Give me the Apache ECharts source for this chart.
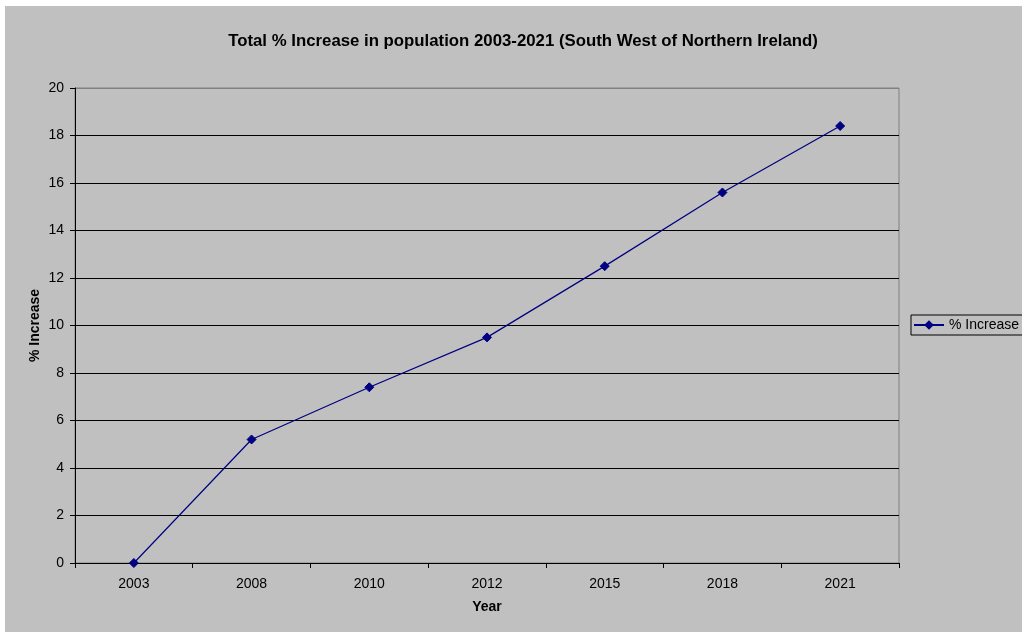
<!DOCTYPE html>
<html><head><meta charset="utf-8">
<script src="https://cdn.jsdelivr.net/npm/echarts@6/dist/echarts.min.js"></script>
<style>html,body{margin:0;padding:0;background:#fff}#c{position:absolute;left:5px;top:6px;width:1017px;height:626px}</style>
</head><body><div id="c"></div>
<script>
const categories = ['2003','2008','2010','2012','2015','2018','2021'];
const increase = [0, 5.2, 7.4, 9.5, 12.5, 15.6, 18.4];
const seriesName = '% Increase';
const titleText = 'Total % Increase in population 2003-2021 (South West of Northern Ireland)';

const chart = echarts.init(document.getElementById('c'), null, {renderer:'canvas'});
const font = "'Liberation Sans', Arial, sans-serif";
const gridColors = ['#000','#000','#000','#000','#000','#000','#000','#000','#000','#000','#808080'];
chart.setOption({
  backgroundColor: '#c0c0c0',
  animation: false,
  textStyle: {fontFamily: font},
  title: {text: titleText, left: 513, top: 22, textAlign: 'center',
    textStyle: {fontFamily: font, fontSize: 16.8, fontWeight: 'bold', color: '#000'}},
  grid: {left: 70, top: 82, width: 824, height: 475, containLabel: false,
    show: true, borderColor: '#808080', borderWidth: 1, backgroundColor: 'transparent'},
  legend: {data:[seriesName], left: 906, top: 309, orient: 'vertical',
    borderColor: '#000', borderWidth: 1, padding: [3, 6, 3, 2], itemWidth: 30, itemHeight: 12, itemGap: 4,
    textStyle: {fontFamily: font, fontSize: 14, color: '#000'}},
  xAxis: {type: 'category', data: categories, boundaryGap: true,
    name: 'Year', nameLocation: 'middle', nameGap: 37, nameMoveOverlap: false,
    nameTextStyle: {fontFamily: font, fontSize: 14, fontWeight: 'bold', color: '#000'},
    axisLine: {lineStyle: {color: '#000', width: 1}},
    axisTick: {show: true, length: 5, lineStyle: {color: '#000'}},
    axisLabel: {fontFamily: font, fontSize: 14, color: '#000', margin: 14},
    splitLine: {show: false}},
  yAxis: {type: 'value', min: 0, max: 20, interval: 2,
    name: '% Increase', nameLocation: 'middle', nameGap: 33, nameRotate: 90, nameMoveOverlap: false,
    nameTextStyle: {fontFamily: font, fontSize: 14, fontWeight: 'bold', color: '#000'},
    axisLine: {show: true, lineStyle: {color: '#000', width: 1}},
    axisTick: {show: true, length: 5, inside: false, lineStyle: {color: '#000'}},
    axisLabel: {fontFamily: font, fontSize: 14, color: '#000', margin: 11},
    splitLine: {show: true, lineStyle: {color: gridColors, width: 1}}},
  series: [{name: seriesName, type: 'line', data: increase,
    symbol: 'diamond', symbolSize: 9, showAllSymbol: true,
    lineStyle: {color: '#000080', width: 1.2},
    itemStyle: {color: '#000080', borderColor: '#000080'}}]
});
</script></body></html>
